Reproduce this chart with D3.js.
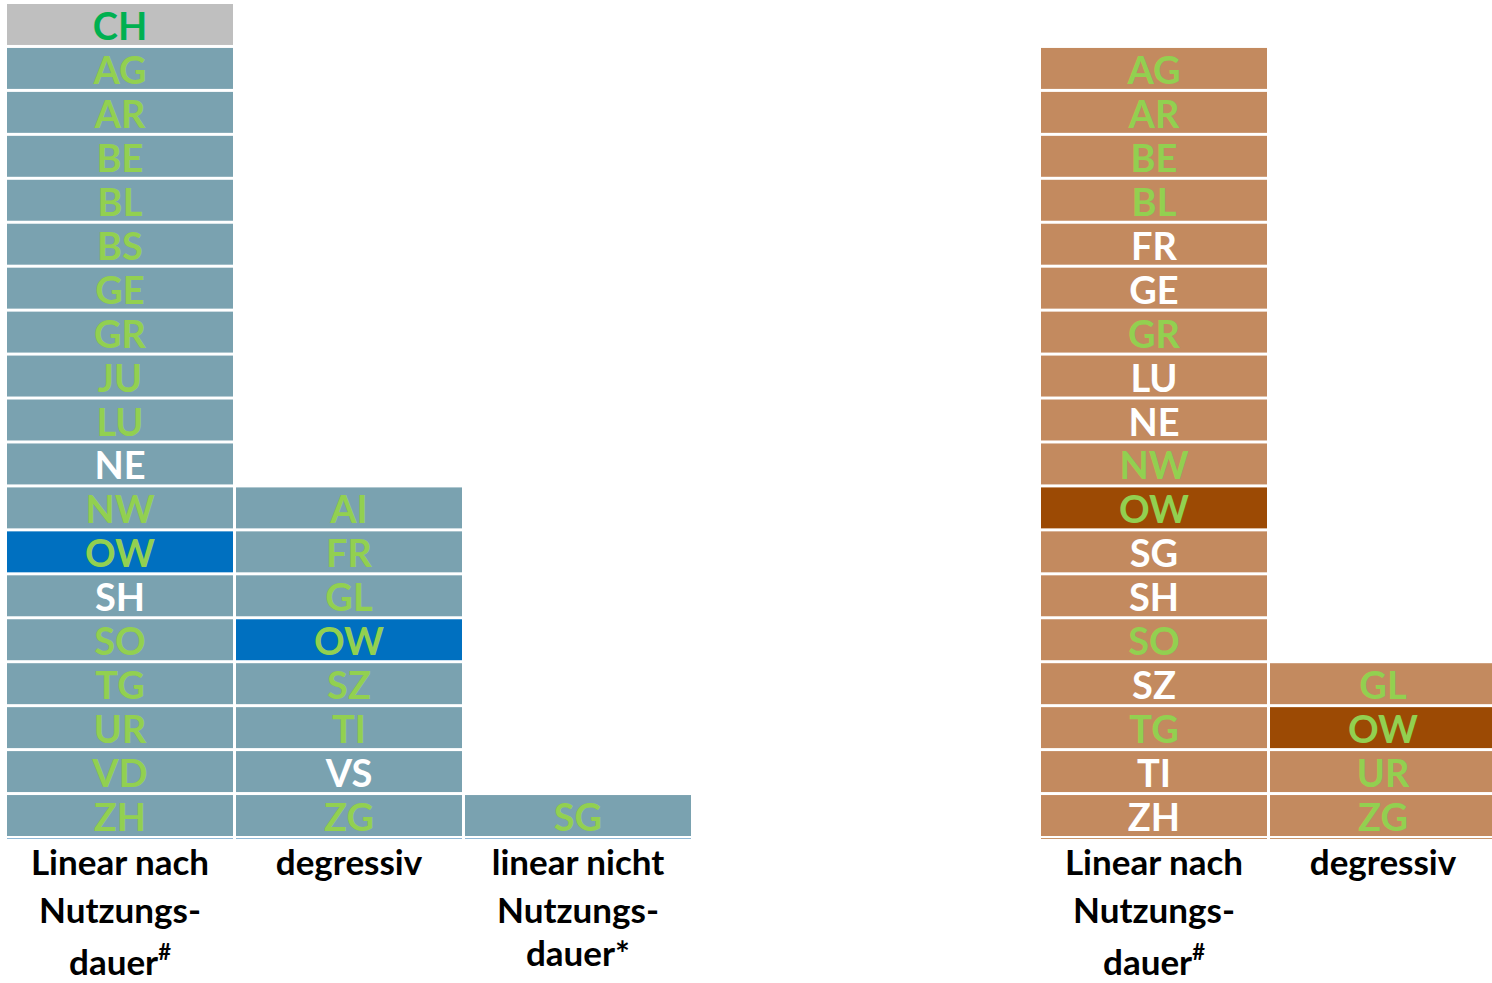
<!DOCTYPE html>
<html>
<head>
<meta charset="utf-8">
<script src="https://cdn.jsdelivr.net/npm/d3@7"></script>
<style>
  body { margin: 0; background: #fff; }
  svg { display: block; }
  text { font-family: Lato, "Open Sans", sans-serif; font-weight: 700; }
</style>
</head>
<body>
<svg id="svg" width="1492" height="983"></svg>
<script>
// Kategorien (Abschreibungsmethode), Zeilen von oben nach unten
const methods = ["linear", "degressiv", "nicht"];
const methodLabels = {
  linear: ["Linear nach", "Nutzungs-", "dauer", "#"],
  degressiv: ["degressiv"],
  nicht: ["linear nicht", "Nutzungs-", "dauer*"]
};

// linkes Panel
const leftLinear = ["CH", "AG", "AR", "BE", "BL", "BS", "GE", "GR", "JU", "LU", "NE", "NW", "OW", "SH", "SO", "TG", "UR", "VD", "ZH"];
const leftDegressiv = ["AI", "FR", "GL", "OW", "SZ", "TI", "VS", "ZG"];
const leftNicht = ["SG"];
const leftWhite = { linear: ["NE", "SH"], degressiv: ["VS"], nicht: [] };

// rechtes Panel
const rightLinear = ["AG", "AR", "BE", "BL", "FR", "GE", "GR", "LU", "NE", "NW", "OW", "SG", "SH", "SO", "SZ", "TG", "TI", "ZH"];
const rightDegressiv = ["GL", "OW", "UR", "ZG"];
const rightWhite = { linear: ["FR", "GE", "LU", "NE", "SG", "SH", "SZ", "TI", "ZH"], degressiv: [] };

const highlight = "OW";
const total = "CH";

const svg = d3.select("#svg");
const nRows = 19;

// Zeilen von unten gestapelt
const y = d3.scaleBand().domain(d3.range(nRows)).range([836, 4]).paddingInner(0.068);

function panel(cols, x0, x1, fill, hiFill, axisCol, white) {
  const x = d3.scaleBand().domain(cols.map(c => c.key)).range([x0, x1]).paddingInner(3 / 229);
  const g = svg.append("g");

  cols.forEach(col => {
    const n = col.items.length;
    const cells = col.items.map((d, i) => ({ name: d, row: n - 1 - i }));
    const cg = g.append("g");
    cg.selectAll("rect").data(cells).join("rect")
      .attr("x", x(col.key)).attr("width", x.bandwidth())
      .attr("y", d => y(d.row)).attr("height", y.bandwidth())
      .attr("fill", d => d.name === total ? "#bfbfbf" : d.name === highlight ? hiFill : fill);
    cg.selectAll("text").data(cells).join("text")
      .attr("x", x(col.key) + x.bandwidth() / 2)
      .attr("y", d => y(d.row) + y.bandwidth() / 2 + 15.5)
      .attr("text-anchor", "middle")
      .style("font-size", "38px")
      .attr("fill", d => d.name === total ? "#00b050" : white[col.key].includes(d.name) ? "#ffffff" : "#92d050")
      .text(d => d.name);

    // Achsenlinie unter der Spalte
    g.append("line")
      .attr("x1", x(col.key)).attr("x2", x(col.key) + x.bandwidth())
      .attr("y1", 838.5).attr("y2", 838.5)
      .attr("stroke", axisCol).attr("stroke-width", 1.2);

    // Kategoriebeschriftung
    const lab = methodLabels[col.key];
    const t = g.append("text")
      .attr("text-anchor", "middle")
      .style("font-size", "35px")
      .attr("fill", "#000");
    const cx = x(col.key) + x.bandwidth() / 2;
    const base = [875, 923, col.key === "nicht" ? 966 : 975];
    if (col.key === "linear") {
      t.append("tspan").attr("x", cx).attr("y", base[0]).text(lab[0]);
      t.append("tspan").attr("x", cx).attr("y", base[1]).text(lab[1]);
      const t3 = g.append("text").attr("x", cx).attr("y", base[2])
        .attr("text-anchor", "middle").style("font-size", "35px").attr("fill", "#000");
      t3.append("tspan").text(lab[2]);
      t3.append("tspan").attr("dy", -15).style("font-size", "22px").text(lab[3]);
    } else {
      lab.forEach((s, i) => t.append("tspan").attr("x", cx).attr("y", base[i]).text(s));
    }
  });
}

panel([
  { key: "linear", items: leftLinear },
  { key: "degressiv", items: leftDegressiv },
  { key: "nicht", items: leftNicht }
], 7, 691, "#7aa2b0", "#0070c0", "#8fb8d6", leftWhite);

panel([
  { key: "linear", items: rightLinear },
  { key: "degressiv", items: rightDegressiv }
], 1041, 1496, "#c38a5f", "#9c4a04", "#c8956b", rightWhite);
</script>
</body>
</html>
